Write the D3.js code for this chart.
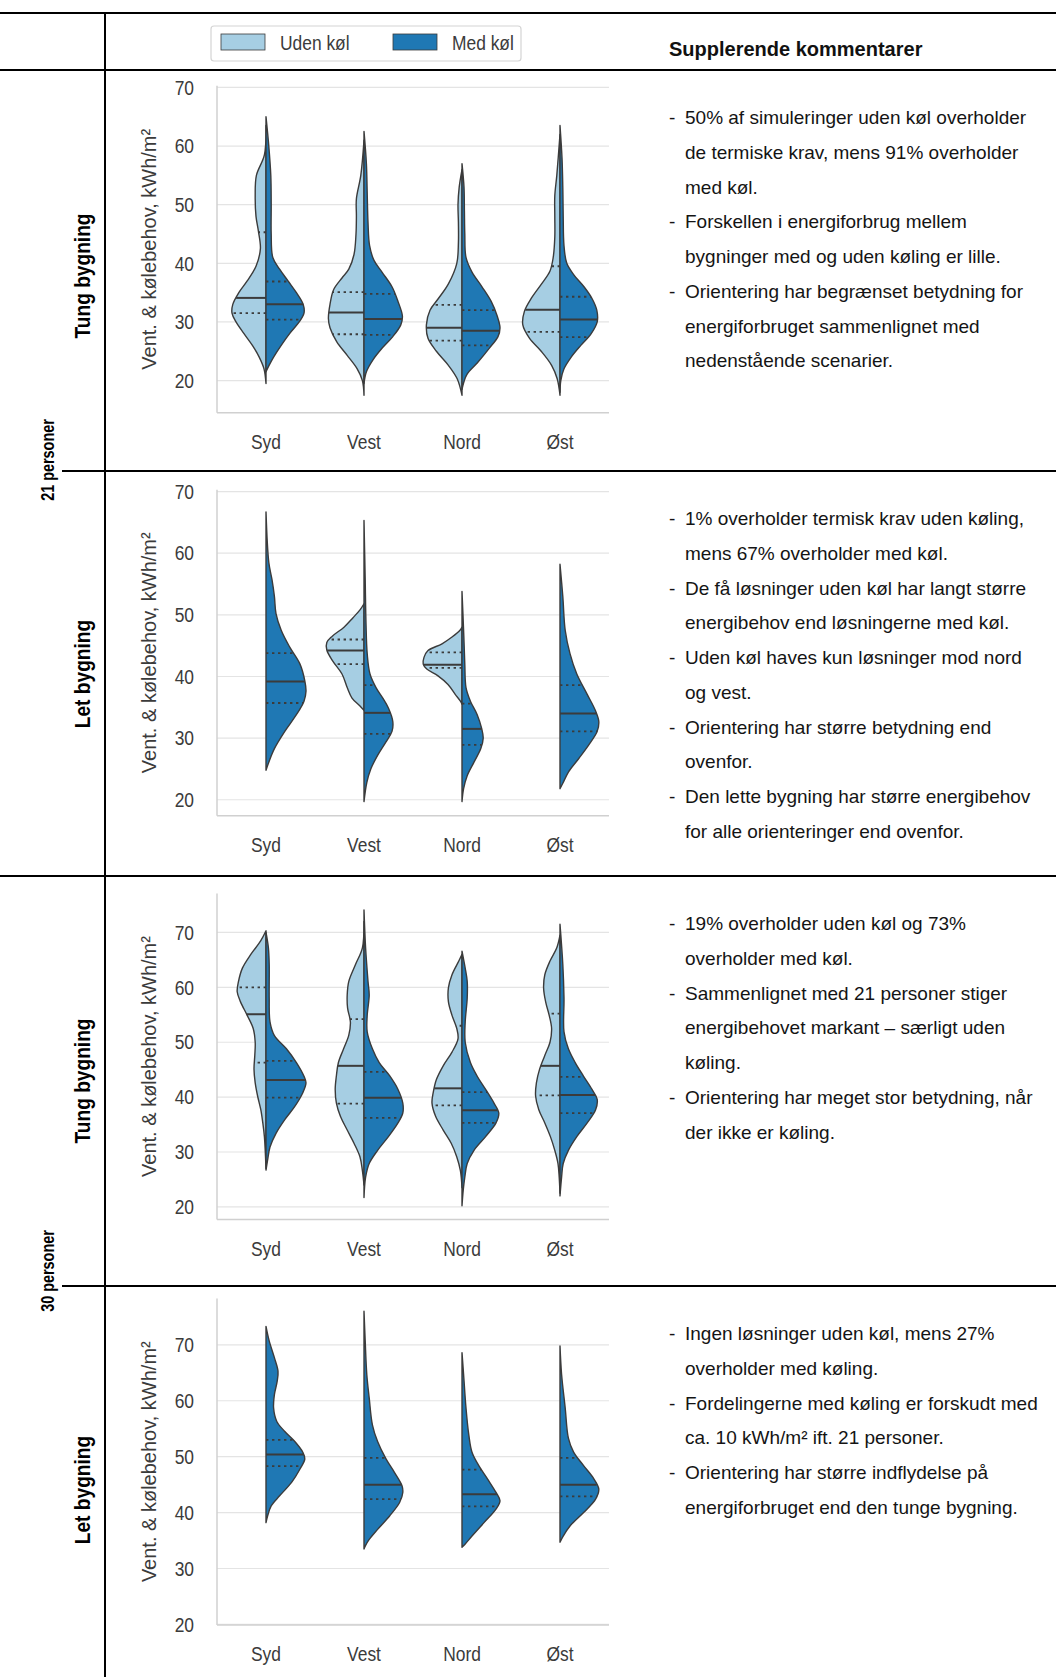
<!DOCTYPE html>
<html>
<head>
<meta charset="utf-8">
<title>Vent. & kølebehov</title>
<script src="https://d3js.org/d3.v7.min.js"></script>
<style>
  body { margin: 0; background: #fff; }
  svg text { font-family: "Liberation Sans", Arial, sans-serif; }
</style>
</head>
<body>
<svg id="fig" width="1056" height="1677"></svg>
<script>
// categories / ticks
const orientations = ["Syd", "Vest", "Nord", "Øst"];
const yTicks = [20, 30, 40, 50, 60, 70];
const seriesNames = ["Uden køl", "Med køl"];
const rowLabels = ["Tung bygning", "Let bygning", "Tung bygning", "Let bygning"];
const groupLabels = ["21 personer", "30 personer"];

// violin profiles: [value kWh/m², relative density], one entry per orientation
// quartiles: [q1, median, q3]
const tung21Uden = [
  [[63.5,0],[58.5,0.04],[55,0.24],[51.5,0.27],[48,0.25],[45.5,0.19],[42.5,0.14],[39.5,0.25],[37,0.47],[35,0.68],[33,0.83],[31.5,0.85],[30,0.75],[28,0.55],[26,0.34],[24,0.17],[22,0.05],[19.5,0]],
  [[61,0],[55,0.08],[51,0.19],[48,0.19],[45,0.2],[41.5,0.25],[39,0.38],[37.5,0.55],[35.5,0.76],[33,0.85],[30.6,0.89],[29,0.85],[26.6,0.68],[24.3,0.42],[22,0.17],[20,0.04],[17.5,0]],
  [[56,0],[53,0.07],[50,0.1],[47,0.09],[43.5,0.09],[40,0.13],[36.5,0.34],[34,0.59],[32,0.8],[29.5,0.89],[27.2,0.85],[25,0.64],[22.6,0.34],[20.3,0.12],[17.5,0]],
  [[62,0],[55,0.08],[51.5,0.13],[48,0.13],[44.5,0.13],[41,0.17],[38.7,0.25],[36.4,0.47],[34,0.72],[31.8,0.89],[29.5,0.93],[27.2,0.76],[25,0.47],[22.6,0.21],[20.3,0.07],[17.5,0]]
];
const tung21UdenQ = [[31.5,34.1,45.3],[27.9,31.6,35.1],[26.8,29.0,32.9],[28.3,32.1,39.5]];
const tung21Med = [
  [[65,0],[60,0.07],[55,0.12],[50,0.13],[45,0.13],[41,0.17],[39,0.34],[37,0.55],[35,0.76],[33,0.93],[31.5,0.95],[30,0.83],[28,0.59],[26,0.38],[24,0.19],[22.5,0.07],[21.5,0]],
  [[62.5,0],[57,0.06],[52,0.08],[47,0.1],[43,0.14],[40.5,0.25],[38.5,0.45],[36,0.7],[33.5,0.85],[31,0.96],[29.5,0.92],[27.5,0.72],[25.5,0.45],[23.5,0.22],[21.5,0.06],[19.5,0]],
  [[57,0],[53,0.05],[49,0.06],[45,0.07],[41,0.1],[38.5,0.25],[36,0.5],[33.5,0.73],[31,0.88],[29,0.95],[27.5,0.9],[25.5,0.68],[23,0.38],[21,0.12],[18.5,0]],
  [[63.5,0],[58,0.05],[53,0.07],[48,0.08],[43,0.1],[40,0.17],[38,0.35],[36,0.6],[34,0.8],[32,0.92],[30,0.93],[28,0.78],[26,0.52],[24,0.28],[22,0.1],[20,0.02],[18,0]]
];
const tung21MedQ = [[30.4,33.0,36.9],[27.8,30.5,34.8],[26.0,28.5,32.0],[27.4,30.4,34.3]];

const let21Uden = [
  null,
  [[51.8,0],[50.8,0.1],[49.5,0.28],[48,0.5],[46.5,0.8],[45.5,0.93],[44.3,0.93],[42.5,0.78],[40.4,0.55],[38.2,0.42],[36.5,0.3],[35.2,0.1],[34.5,0]],
  [[48,0],[47.5,0.05],[46.4,0.25],[45.3,0.5],[44.2,0.85],[43.1,0.95],[42,0.97],[41.2,0.88],[40.1,0.6],[38.7,0.35],[37.1,0.17],[36,0.04],[35.5,0]],
  null
];
const let21UdenQ = [null,[42.0,44.2,46.0],[41.4,41.9,43.9],null];
const let21Med = [
  [[66.7,0],[58.5,0.07],[55.7,0.15],[53,0.21],[50.2,0.25],[47.5,0.38],[44.8,0.59],[42,0.85],[39.3,0.97],[37.6,1.0],[36,0.95],[33.8,0.76],[31.1,0.47],[28.3,0.21],[26.1,0.07],[24.8,0]],
  [[65.3,0],[55.7,0.03],[48.6,0.05],[43.7,0.08],[40.4,0.15],[38.2,0.3],[36.5,0.47],[34.9,0.61],[32.7,0.72],[31.1,0.7],[29.4,0.55],[27.2,0.34],[25,0.17],[22.8,0.07],[19.7,0]],
  [[53.8,0],[47.5,0.04],[42,0.07],[38.2,0.1],[36,0.21],[33.8,0.38],[31.6,0.49],[30,0.53],[28.3,0.47],[26.1,0.3],[23.9,0.13],[21.8,0.04],[19.7,0]],
  [[58.2,0],[53,0.07],[47.5,0.13],[43.7,0.25],[40.4,0.42],[37.1,0.68],[34.4,0.89],[32.7,0.97],[31.1,0.93],[28.9,0.72],[26.7,0.47],[24.5,0.21],[22.8,0.08],[21.8,0]]
];
const let21MedQ = [[35.7,39.2,43.8],[30.7,34.1,38.6],[28.9,31.5,35.6],[31.1,34.0,38.6]];

const tung30Uden = [
  [[70.3,0],[68.5,0.13],[66,0.38],[63.5,0.59],[61,0.69],[59.2,0.72],[57.4,0.64],[54.9,0.47],[52.5,0.32],[50,0.27],[47.6,0.28],[45.1,0.3],[42.6,0.27],[40.2,0.21],[37.7,0.13],[35.3,0.08],[32.8,0.04],[27,0]],
  [[72,0],[67.2,0.04],[64.2,0.21],[61.1,0.38],[58.6,0.42],[56.2,0.41],[53.7,0.34],[51.3,0.38],[48.8,0.51],[46.3,0.64],[43.9,0.69],[41.4,0.72],[38.9,0.69],[36.5,0.59],[34,0.42],[31.6,0.25],[29.1,0.1],[26.6,0.04],[24,0]],
  [[66,0],[64.8,0.08],[62.3,0.25],[59.9,0.34],[57.4,0.34],[54.9,0.25],[52.5,0.13],[50.6,0.1],[48.2,0.25],[45.7,0.47],[43.2,0.64],[40.8,0.72],[38.9,0.75],[36.5,0.66],[34,0.47],[31.6,0.27],[29.1,0.13],[26.6,0.04],[23.5,0]],
  [[69.5,0],[67.2,0.08],[64.8,0.25],[62.3,0.38],[59.9,0.41],[57.4,0.36],[54.9,0.27],[52.5,0.21],[50,0.25],[47.6,0.38],[45.1,0.51],[42.6,0.59],[40.2,0.61],[37.7,0.53],[35.3,0.38],[32.8,0.24],[30.3,0.13],[27.9,0.05],[25.4,0.02],[22.5,0]]
];
const tung30UdenQ = [[46.3,55.1,60.0],[38.8,45.7,54.2],[38.5,41.6,53.0],[40.3,45.7,55.2]];
const tung30Med = [
  [[70,0],[67.2,0.06],[64.2,0.08],[58,0.08],[53.7,0.1],[51.2,0.21],[48.8,0.51],[46.3,0.76],[43.8,0.95],[42.6,1.0],[40.8,0.92],[38.3,0.72],[35.9,0.47],[33.4,0.25],[30.9,0.1],[28.5,0.04],[26.7,0]],
  [[74.1,0],[67.2,0.04],[61.1,0.1],[58.6,0.13],[54.9,0.08],[51.9,0.08],[48.8,0.21],[46.3,0.38],[43.9,0.64],[41.4,0.85],[38.9,0.97],[37.1,0.97],[35.3,0.85],[32.8,0.61],[30.3,0.34],[27.9,0.13],[25.4,0.04],[21.7,0]],
  [[66.6,0],[63.5,0.08],[61.1,0.13],[58,0.13],[53.7,0.08],[50,0.08],[46.3,0.21],[43.8,0.38],[41.4,0.59],[38.9,0.8],[37.1,0.92],[35.3,0.85],[32.8,0.59],[30.3,0.3],[27.9,0.13],[25.4,0.07],[23,0.03],[20.2,0]],
  [[71.5,0],[64.2,0.07],[58,0.1],[51.9,0.1],[48.8,0.21],[46.3,0.38],[43.8,0.59],[41.4,0.8],[39.6,0.93],[37.7,0.89],[35.3,0.68],[32.8,0.42],[30.3,0.21],[27.9,0.08],[25.4,0.04],[22,0]]
];
const tung30MedQ = [[39.9,43.1,46.6],[36.2,39.9,44.6],[35.3,37.6,40.9],[37.1,40.4,43.7]];

const let30Uden = [null, null, null, null];
const let30UdenQ = [null, null, null, null];
const let30Med = [
  [[73.3,0],[70.7,0.08],[67.7,0.21],[65.3,0.3],[63.5,0.28],[61.1,0.21],[58.7,0.19],[56.3,0.27],[54.5,0.47],[52.7,0.72],[50.8,0.92],[49.6,0.97],[47.8,0.85],[45.4,0.64],[43,0.34],[41.2,0.13],[39.4,0.04],[38.2,0]],
  [[76,0],[70.7,0.03],[64.7,0.07],[60.5,0.13],[55.7,0.21],[52.7,0.34],[49.6,0.55],[47.2,0.76],[44.8,0.95],[43.6,0.97],[41.8,0.89],[39.4,0.64],[37,0.34],[35.2,0.13],[34,0.03],[33.5,0]],
  [[68.6,0],[64.7,0.04],[58.7,0.1],[53.9,0.17],[50.8,0.25],[48.4,0.42],[46,0.64],[43.6,0.85],[42.1,0.95],[40.6,0.85],[38.2,0.55],[35.8,0.25],[34.3,0.07],[33.8,0]],
  [[69.8,0],[64.7,0.04],[58.7,0.13],[53.3,0.21],[50.8,0.34],[48.4,0.59],[46,0.85],[44.2,0.97],[42.4,0.89],[40,0.59],[37.6,0.25],[35.8,0.08],[34.7,0]]
];
const let30MedQ = [[48.3,50.4,53.0],[42.4,45.0,49.8],[41.1,43.3,47.7],[42.9,45.0,49.8]];

// comments column
const tung21Text = [
  ["50% af simuleringer uden køl overholder", "de termiske krav, mens 91% overholder", "med køl."],
  ["Forskellen i energiforbrug mellem", "bygninger med og uden køling er lille."],
  ["Orientering har begrænset betydning for", "energiforbruget sammenlignet med", "nedenstående scenarier."]
];
const let21Text = [
  ["1% overholder termisk krav uden køling,", "mens 67% overholder med køl."],
  ["De få løsninger uden køl har langt større", "energibehov end løsningerne med køl."],
  ["Uden køl haves kun løsninger mod nord", "og vest."],
  ["Orientering har større betydning end", "ovenfor."],
  ["Den lette bygning har større energibehov", "for alle orienteringer end ovenfor."]
];
const tung30Text = [
  ["19% overholder uden køl og 73%", "overholder med køl."],
  ["Sammenlignet med 21 personer stiger", "energibehovet markant – særligt uden", "køling."],
  ["Orientering har meget stor betydning, når", "der ikke er køling."]
];
const let30Text = [
  ["Ingen løsninger uden køl, mens 27%", "overholder med køling."],
  ["Fordelingerne med køling er forskudt med", "ca. 10 kWh/m² ift. 21 personer."],
  ["Orientering har større indflydelse på", "energiforbruget end den tunge bygning."]
];

const colors = ["#a6cee3", "#1f78b4"];
const ink = "#3b3b3b";
const squeeze = 0.87; // the chart labels are set in a condensed face

const panels = [
  { uden: tung21Uden, udenQ: tung21UdenQ, med: tung21Med, medQ: tung21MedQ, text: tung21Text, rowTop: 70,   top: 85.7,   bottom: 412.8,  lim: [14.5, 70.3] },
  { uden: let21Uden,  udenQ: let21UdenQ,  med: let21Med,  medQ: let21MedQ,  text: let21Text,  rowTop: 471,  top: 489.7,  bottom: 815.8,  lim: [17.4, 70.3] },
  { uden: tung30Uden, udenQ: tung30UdenQ, med: tung30Med, medQ: tung30MedQ, text: tung30Text, rowTop: 876,  top: 893.5,  bottom: 1219.5, lim: [17.7, 77.1] },
  { uden: let30Uden,  udenQ: let30UdenQ,  med: let30Med,  medQ: let30MedQ,  text: let30Text,  rowTop: 1286, top: 1298.4, bottom: 1625,   lim: [19.9, 78.3] }
];

const svg = d3.select("#fig");
svg.append("rect").attr("width", 1056).attr("height", 1677).attr("fill", "#fff");

const x = d3.scaleBand().domain(orientations).range([217, 609]);
const w = d3.scaleLinear().domain([0, 1]).range([0, 40]);

panels.forEach(p => {
  const y = d3.scaleLinear().domain(p.lim).range([p.bottom, p.top]);
  const g = svg.append("g");

  g.selectAll(".grid").data(yTicks).join("line")
    .attr("class", "grid")
    .attr("x1", 217).attr("x2", 609)
    .attr("y1", d => y(d)).attr("y2", d => y(d))
    .attr("stroke", "#e4e4e4").attr("stroke-width", 1.2);

  g.append("line").attr("x1", 217).attr("x2", 217).attr("y1", p.top).attr("y2", p.bottom)
    .attr("stroke", "#d0d0d0").attr("stroke-width", 1.5);
  g.append("line").attr("x1", 217).attr("x2", 609).attr("y1", p.bottom).attr("y2", p.bottom)
    .attr("stroke", "#d0d0d0").attr("stroke-width", 1.5);

  g.selectAll(".ytick").data(yTicks).join("text")
    .attr("transform", d => `translate(194,${y(d)}) scale(${squeeze},1)`)
    .attr("dy", "0.36em")
    .attr("text-anchor", "end").attr("font-size", 20).attr("fill", ink)
    .text(d => d);

  g.selectAll(".xtick").data(orientations).join("text")
    .attr("transform", d => `translate(${x(d) + x.bandwidth() / 2},${p.bottom + 29}) scale(${squeeze},1)`)
    .attr("dy", "0.36em")
    .attr("text-anchor", "middle").attr("font-size", 20).attr("fill", ink)
    .text(d => d);

  g.append("text")
    .attr("transform", `translate(149,${(p.top + p.bottom) / 2}) rotate(-90)`)
    .attr("text-anchor", "middle").attr("dy", "0.36em")
    .attr("font-size", 20).attr("fill", ink)
    .text("Vent. & kølebehov, kWh/m²");

  const halves = [
    { dens: p.uden, qs: p.udenQ, side: -1, color: colors[0] },
    { dens: p.med,  qs: p.medQ,  side:  1, color: colors[1] }
  ];
  halves.forEach(h => {
    h.dens.forEach((pts, i) => {
      if (!pts) return;
      const cx = x(orientations[i]) + x.bandwidth() / 2;
      const area = d3.area()
        .curve(d3.curveCatmullRom.alpha(0.5))
        .y(d => y(d[0]))
        .x0(cx)
        .x1(d => cx + h.side * w(d[1]));
      g.append("path").datum(pts)
        .attr("d", area)
        .attr("fill", h.color)
        .attr("stroke", ink).attr("stroke-width", 1.4).attr("stroke-linejoin", "round");

      const widthAt = d3.scaleLinear().domain(pts.map(d => d[0])).range(pts.map(d => d[1]));
      h.qs[i].forEach((q, k) => {
        g.append("line")
          .attr("x1", cx).attr("x2", cx + h.side * w(widthAt(q)))
          .attr("y1", y(q)).attr("y2", y(q))
          .attr("stroke", ink)
          .attr("stroke-width", k === 1 ? 2 : 1.8)
          .attr("stroke-dasharray", k === 1 ? null : "2.4,3.6");
      });
    });
  });

  // comments
  let line = 0;
  const tg = svg.append("g").attr("font-size", 19).attr("fill", "#141414");
  p.text.forEach(bullet => {
    bullet.forEach((t, j) => {
      const yy = p.rowTop + 47.5 + line * 34.7;
      if (j === 0) tg.append("text").attr("x", 669).attr("y", yy).attr("dy", "0.36em").text("-");
      tg.append("text").attr("x", 685).attr("y", yy).attr("dy", "0.36em").text(t);
      line++;
    });
  });
});

// legend
const lg = svg.append("g");
lg.append("rect").attr("x", 211).attr("y", 26).attr("width", 310).attr("height", 35).attr("rx", 3)
  .attr("fill", "#fff").attr("stroke", "#d4d4d4").attr("stroke-width", 1.2);
const legendX = d3.scaleOrdinal().domain(seriesNames).range([221, 393]);
seriesNames.forEach((s, i) => {
  lg.append("rect").attr("x", legendX(s)).attr("y", 34).attr("width", 44).attr("height", 16)
    .attr("fill", colors[i]).attr("stroke", ink).attr("stroke-width", 0.8);
  lg.append("text")
    .attr("transform", `translate(${legendX(s) + 59},42.5) scale(${squeeze},1)`)
    .attr("dy", "0.36em")
    .attr("font-size", 20).attr("fill", ink).text(s);
});

svg.append("text").attr("x", 669).attr("y", 56).attr("font-size", 20).attr("font-weight", "bold")
  .attr("fill", "#111").text("Supplerende kommentarer");

// table rules
const rules = [[0, 13], [0, 70], [62, 471], [0, 876], [62, 1286]];
svg.selectAll(".rule").data(rules).join("line")
  .attr("x1", d => d[0]).attr("x2", 1056).attr("y1", d => d[1]).attr("y2", d => d[1])
  .attr("stroke", "#000").attr("stroke-width", 2);
svg.append("line").attr("x1", 105).attr("x2", 105).attr("y1", 13).attr("y2", 1677)
  .attr("stroke", "#000").attr("stroke-width", 2);

// row and group labels
const rowY = [276, 674, 1081, 1490];
rowLabels.forEach((r, i) => {
  svg.append("text").attr("transform", `translate(82,${rowY[i]}) rotate(-90) scale(0.87,1)`)
    .attr("text-anchor", "middle").attr("dy", "0.36em")
    .attr("font-size", 22).attr("font-weight", "bold").attr("fill", "#000").text(r);
});
const groupY = [460, 1271];
groupLabels.forEach((r, i) => {
  svg.append("text").attr("transform", `translate(48,${groupY[i]}) rotate(-90) scale(0.8,1)`)
    .attr("text-anchor", "middle").attr("dy", "0.36em")
    .attr("font-size", 18).attr("font-weight", "bold").attr("fill", "#000").text(r);
});
</script>
</body>
</html>
